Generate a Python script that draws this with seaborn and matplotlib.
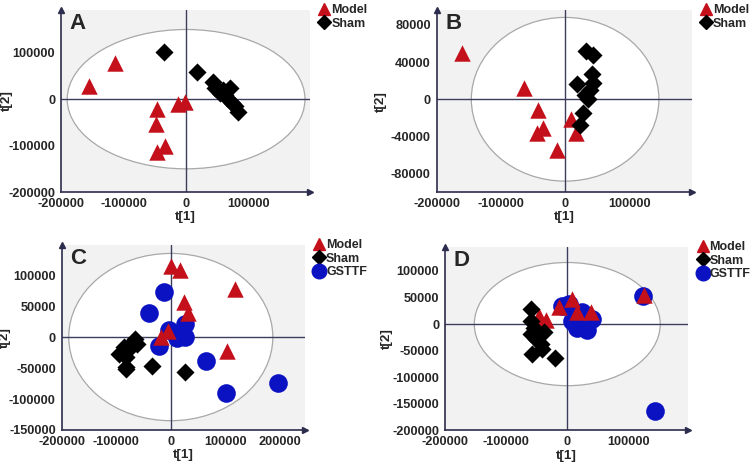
import numpy as np
import pandas as pd
import matplotlib
matplotlib.use("Agg")
import matplotlib.pyplot as plt
import seaborn as sns
from matplotlib.patches import Ellipse
from matplotlib.lines import Line2D
from matplotlib.ticker import FixedLocator, MultipleLocator

# ---------------- data ----------------
# Panel A
a_model_x = [-155700, -114000, -46400, -48000, -34000, -46400, -12800, -1000]
a_model_y = [28000, 77000, -22000, -52500, -100700, -113700, -10000, -7000]
a_sham_x = [-34700, 17100, 43200, 70400, 59200, 54400, 65600, 73600, 83200, 46400, 62400, 78400]
a_sham_y = [100700, 59000, 36700, 25000, 19400, 13000, 2200, -8600, -27000, 23800, 8600, -15100]

# Panel B
b_model_x = [-160000, -63900, -41600, -34800, -43100, -12500, 9400, 17100]
b_model_y = [49400, 12600, -11900, -30600, -36400, -54400, -20900, -36000]
b_sham_x = [32200, 44000, 41600, 18200, 44000, 39000, 31000, 36000, 28600, 23400]
b_sham_y = [51900, 47600, 27700, 16200, 17000, 10500, 4300, 0, -14400, -28100]

# Panel C
c_model_x = [1000, 17000, 117700, 25000, 32300, -4300, -17700, 102400]
c_model_y = [114800, 108300, 77600, 57100, 39300, 10200, 0, -22100]
c_sham_x = [-65200, -72600, -62200, -85400, -78700, -95700, -82300, -81700, -81700, -34800, 26200]
c_sham_y = [-3200, -11300, -11900, -15600, -21000, -28000, -31800, -48000, -52000, -46900, -57100]
c_gsttf_x = [-12200, -39600, -3000, 26200, 11000, 26000, -21300, 64000, 100600, 195700]
c_gsttf_y = [72200, 38300, 11300, 20500, -1000, 0, -14500, -38800, -90500, -73800]

# Panel D
d_model_x = [7000, -13700, 15200, 38100, -46400, -35500, 125900]
d_model_y = [47200, 31300, 21900, 21900, 15700, 7500, 55300]
d_sham_x = [-60000, -60000, -54600, -38200, -60000, -51800, -43600, -57200, -40800, -20200]
d_sham_y = [28300, 6200, -6400, -15800, -18900, -28300, -37700, -56600, -47200, -64200]
d_gsttf_x = [-8200, 3000, 8200, 24500, 40800, 16300, 32700, 24500, 124300, 143300]
d_gsttf_y = [34500, 38000, 6200, 21900, 9400, -6400, -11300, 0, 52100, -162700]

groups = ["GSTTF", "Model", "Sham"]
colors = {"Model": "#c4101a", "Sham": "#000000", "GSTTF": "#0a12c2"}
markers = {"Model": "^", "Sham": "D", "GSTTF": "o"}
sizes = {"Model": 140, "Sham": 85, "GSTTF": 180}
leg_ms = {"Model": 8.5, "Sham": 7, "GSTTF": 10.5}

panels = [
    dict(label="A", pos=[0.0813, 0.587, 0.332, 0.3915],
         xlim=(-200000, 198000), ylim=(-200000, 192000),
         xt=[-200000, -100000, 0, 100000], yt=[-200000, -100000, 0, 100000], ymin=20000,
         ell=(190000, 150000), ylab_x=-0.193, xlab_y=-0.102,
         data={"Model": (a_model_x, a_model_y), "Sham": (a_sham_x, a_sham_y)}),
    dict(label="B", pos=[0.5822, 0.5865, 0.34, 0.392],
         xlim=(-200000, 197000), ylim=(-100000, 96000),
         xt=[-200000, -100000, 0, 100000], yt=[-80000, -40000, 0, 40000, 80000], ymin=8000,
         ell=(146000, 88000), ylab_x=-0.195, xlab_y=-0.102,
         data={"Model": (b_model_x, b_model_y), "Sham": (b_sham_x, b_sham_y)}),
    dict(label="C", pos=[0.0822, 0.0753, 0.3245, 0.397],
         xlim=(-200000, 246000), ylim=(-150000, 148000),
         xt=[-200000, -100000, 0, 100000, 200000],
         yt=[-150000, -100000, -50000, 0, 50000, 100000], ymin=10000,
         ell=(187000, 135000), ylab_x=-0.209, xlab_y=-0.103,
         data={"Model": (c_model_x, c_model_y), "Sham": (c_sham_x, c_sham_y),
               "GSTTF": (c_gsttf_x, c_gsttf_y)}),
    dict(label="D", pos=[0.5933, 0.0746, 0.3245, 0.394],
         xlim=(-200000, 198000), ylim=(-200000, 145000),
         xt=[-200000, -100000, 0, 100000],
         yt=[-200000, -150000, -100000, -50000, 0, 50000, 100000], ymin=10000,
         ell=(152000, 116000), ylab_x=-0.214, xlab_y=-0.11,
         data={"Model": (d_model_x, d_model_y), "Sham": (d_sham_x, d_sham_y),
               "GSTTF": (d_gsttf_x, d_gsttf_y)}),
]

sns.set_style("white")
plt.rcParams["font.family"] = ["Liberation Sans", "DejaVu Sans"]
plt.rcParams["font.weight"] = "bold"

axis_col = "#2c2c4c"
fig = plt.figure(figsize=(7.5, 4.65), dpi=100)

for p in panels:
    ax = fig.add_axes(p["pos"])
    ax.set_facecolor("#f2f2f2")
    ax.add_patch(Ellipse((0, 0), 2 * p["ell"][0], 2 * p["ell"][1], facecolor="white",
                         edgecolor="#a8a8a8", lw=0.9, zorder=0.5))
    ax.axhline(0, color="#3c3c5c", lw=1.0, zorder=1)
    ax.axvline(0, color="#3c3c5c", lw=1.0, zorder=1)

    rows = []
    for g in groups:
        if g in p["data"]:
            xs, ys = p["data"][g]
            for x, y in zip(xs, ys):
                rows.append({"t1": x, "t2": y, "group": g})
    df = pd.DataFrame(rows)
    for g in groups:
        sub = df[df["group"] == g]
        if len(sub) == 0:
            continue
        sns.scatterplot(data=sub, x="t1", y="t2", ax=ax, color=colors[g],
                        marker=markers[g], s=sizes[g], linewidth=0, legend=False, zorder=3)

    ax.set_xlim(*p["xlim"])
    ax.set_ylim(*p["ylim"])
    ax.xaxis.set_major_locator(FixedLocator(p["xt"]))
    ax.yaxis.set_major_locator(FixedLocator(p["yt"]))
    ax.yaxis.set_minor_locator(MultipleLocator(p["ymin"]))
    ax.set_xticklabels([str(v) for v in p["xt"]], fontweight="bold")
    ax.set_yticklabels([str(v) for v in p["yt"]], fontweight="bold")
    ax.tick_params(axis="both", which="major", labelsize=9.2, length=3, width=1,
                   color=axis_col, pad=1.2, direction="out")
    ax.tick_params(axis="y", which="minor", length=2, width=0.8, color=axis_col, direction="out")
    for s in ["top", "right"]:
        ax.spines[s].set_visible(False)
    for s in ["left", "bottom"]:
        ax.spines[s].set_color(axis_col)
        ax.spines[s].set_linewidth(1.2)
    ax.plot(1, 0, ">", color=axis_col, ms=5, transform=ax.transAxes, clip_on=False, zorder=5)
    ax.plot(0, 1, "^", color=axis_col, ms=5, transform=ax.transAxes, clip_on=False, zorder=5)
    ax.set_xlabel("t[1]", fontsize=9.6, fontweight="bold")
    ax.set_ylabel("t[2]", fontsize=9.6, fontweight="bold")
    ax.yaxis.set_label_coords(p["ylab_x"], 0.5)
    ax.xaxis.set_label_coords(0.5, p["xlab_y"])
    ax.text(0.035, 0.985, p["label"], transform=ax.transAxes, fontsize=16,
            fontweight="bold", va="top", ha="left", zorder=6)

    leg_groups = [g for g in ["Model", "Sham", "GSTTF"] if g in p["data"]]
    handles = [Line2D([], [], linestyle="none", marker=markers[g], color=colors[g],
                      markersize=leg_ms[g], label=g)
               for g in leg_groups]
    ax.legend(handles=handles, loc="upper left", bbox_to_anchor=(1.02, 1.06),
              frameon=False, handlelength=0.7, handletextpad=0.2, labelspacing=0.12,
              borderaxespad=0.2, borderpad=0.2, prop={"size": 9, "weight": "bold"})

fig.savefig("out.png", dpi=100)
